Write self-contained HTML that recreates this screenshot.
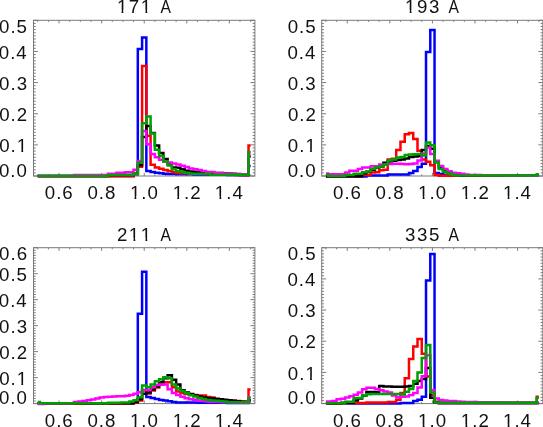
<!DOCTYPE html>
<html><head><meta charset="utf-8"><style>
html,body{margin:0;padding:0;background:#fff;}
svg{display:block;will-change:transform;}
text{font-kerning:none;font-family:"Liberation Sans",sans-serif;font-size:17.80px;fill:#111;letter-spacing:0.94px;word-spacing:1.60px;}
</style></head><body>
<svg width="543" height="427" viewBox="0 0 543 427">
<rect width="543" height="427" fill="#fff"/>
<g fill="none" stroke-width="2.50" stroke-linejoin="miter" stroke-linecap="butt">
<g fill="none" stroke="#7a7a7a" stroke-width="1"><rect x="33.50" y="20.30" width="221.40" height="155.70"/><path d="M37.76,176.00v-1.60M37.76,20.30v1.60M48.40,176.00v-1.60M48.40,20.30v1.60M59.05,176.00v-3.10M59.05,20.30v3.10M69.69,176.00v-1.60M69.69,20.30v1.60M80.34,176.00v-1.60M80.34,20.30v1.60M90.98,176.00v-1.60M90.98,20.30v1.60M101.63,176.00v-3.10M101.63,20.30v3.10M112.27,176.00v-1.60M112.27,20.30v1.60M122.92,176.00v-1.60M122.92,20.30v1.60M133.56,176.00v-1.60M133.56,20.30v1.60M144.21,176.00v-3.10M144.21,20.30v3.10M154.85,176.00v-1.60M154.85,20.30v1.60M165.50,176.00v-1.60M165.50,20.30v1.60M176.14,176.00v-1.60M176.14,20.30v1.60M186.79,176.00v-3.10M186.79,20.30v3.10M197.43,176.00v-1.60M197.43,20.30v1.60M208.08,176.00v-1.60M208.08,20.30v1.60M218.72,176.00v-1.60M218.72,20.30v1.60M229.37,176.00v-3.10M229.37,20.30v3.10M240.01,176.00v-1.60M240.01,20.30v1.60M250.66,176.00v-1.60M250.66,20.30v1.60M33.50,176.00h4.40M254.90,176.00h-4.40M33.50,172.89h2.20M254.90,172.89h-2.20M33.50,169.77h2.20M254.90,169.77h-2.20M33.50,166.66h2.20M254.90,166.66h-2.20M33.50,163.54h2.20M254.90,163.54h-2.20M33.50,160.43h2.20M254.90,160.43h-2.20M33.50,157.32h2.20M254.90,157.32h-2.20M33.50,154.20h2.20M254.90,154.20h-2.20M33.50,151.09h2.20M254.90,151.09h-2.20M33.50,147.97h2.20M254.90,147.97h-2.20M33.50,144.86h4.40M254.90,144.86h-4.40M33.50,141.75h2.20M254.90,141.75h-2.20M33.50,138.63h2.20M254.90,138.63h-2.20M33.50,135.52h2.20M254.90,135.52h-2.20M33.50,132.40h2.20M254.90,132.40h-2.20M33.50,129.29h2.20M254.90,129.29h-2.20M33.50,126.18h2.20M254.90,126.18h-2.20M33.50,123.06h2.20M254.90,123.06h-2.20M33.50,119.95h2.20M254.90,119.95h-2.20M33.50,116.83h2.20M254.90,116.83h-2.20M33.50,113.72h4.40M254.90,113.72h-4.40M33.50,110.61h2.20M254.90,110.61h-2.20M33.50,107.49h2.20M254.90,107.49h-2.20M33.50,104.38h2.20M254.90,104.38h-2.20M33.50,101.26h2.20M254.90,101.26h-2.20M33.50,98.15h2.20M254.90,98.15h-2.20M33.50,95.04h2.20M254.90,95.04h-2.20M33.50,91.92h2.20M254.90,91.92h-2.20M33.50,88.81h2.20M254.90,88.81h-2.20M33.50,85.69h2.20M254.90,85.69h-2.20M33.50,82.58h4.40M254.90,82.58h-4.40M33.50,79.47h2.20M254.90,79.47h-2.20M33.50,76.35h2.20M254.90,76.35h-2.20M33.50,73.24h2.20M254.90,73.24h-2.20M33.50,70.12h2.20M254.90,70.12h-2.20M33.50,67.01h2.20M254.90,67.01h-2.20M33.50,63.90h2.20M254.90,63.90h-2.20M33.50,60.78h2.20M254.90,60.78h-2.20M33.50,57.67h2.20M254.90,57.67h-2.20M33.50,54.55h2.20M254.90,54.55h-2.20M33.50,51.44h4.40M254.90,51.44h-4.40M33.50,48.33h2.20M254.90,48.33h-2.20M33.50,45.21h2.20M254.90,45.21h-2.20M33.50,42.10h2.20M254.90,42.10h-2.20M33.50,38.98h2.20M254.90,38.98h-2.20M33.50,35.87h2.20M254.90,35.87h-2.20M33.50,32.76h2.20M254.90,32.76h-2.20M33.50,29.64h2.20M254.90,29.64h-2.20M33.50,26.53h2.20M254.90,26.53h-2.20M33.50,23.41h2.20M254.90,23.41h-2.20M33.50,20.30h4.40M254.90,20.30h-4.40"/></g>
<path d="M37.76,176.10 H39.89 V176.10 H44.15 V176.10 H48.40 V176.10 H52.66 V176.10 H56.92 V176.10 H61.18 V176.10 H65.44 V176.10 H69.69 V176.10 H73.95 V176.10 H78.21 V176.10 H82.47 V176.10 H86.72 V176.10 H90.98 V176.10 H95.24 V176.10 H99.50 V176.10 H103.76 V176.10 H108.02 V176.10 H112.27 V176.10 H116.53 V176.10 H120.79 V176.10 H125.05 V176.10 H129.31 V176.10 H133.56 V174.00 H137.82 V48.90 H142.08 V37.50 H146.34 V170.90 H150.60 V172.00 H154.85 V172.70 H159.11 V173.30 H163.37 V173.70 H167.63 V174.00 H171.89 V174.07 H176.14 V174.13 H180.40 V174.20 H184.66 V174.27 H188.92 V174.33 H193.18 V174.40 H197.43 V174.47 H201.69 V174.53 H205.95 V174.60 H210.21 V174.67 H214.46 V174.73 H218.72 V174.80 H222.98 V174.87 H227.24 V174.93 H231.50 V175.00 H235.75 V175.07 H240.01 V175.13 H244.27 V175.20 H248.53 V166.00 H250.66" stroke="#0000ff"/>
<path d="M37.76,176.30 H39.89 V176.30 H44.15 V176.30 H48.40 V176.30 H52.66 V176.30 H56.92 V176.30 H61.18 V176.30 H65.44 V176.30 H69.69 V176.30 H73.95 V176.30 H78.21 V176.30 H82.47 V176.30 H86.72 V176.30 H90.98 V176.30 H95.24 V176.30 H99.50 V176.30 H103.76 V176.30 H108.02 V176.30 H112.27 V176.30 H116.53 V176.30 H120.79 V176.30 H125.05 V176.30 H129.31 V176.30 H133.56 V173.50 H137.82 V166.70 H142.08 V66.00 H146.34 V135.70 H150.60 V164.70 H154.85 V167.40 H159.11 V168.70 H163.37 V170.00 H167.63 V171.00 H171.89 V172.20 H176.14 V173.00 H180.40 V173.14 H184.66 V173.28 H188.92 V173.41 H193.18 V173.55 H197.43 V173.69 H201.69 V173.82 H205.95 V173.96 H210.21 V174.10 H214.46 V174.24 H218.72 V174.38 H222.98 V174.51 H227.24 V174.65 H231.50 V174.79 H235.75 V174.93 H240.01 V175.06 H244.27 V175.20 H248.53 V145.50 H250.66" stroke="#ff0000"/>
<path d="M37.76,176.10 H39.89 V176.10 H44.15 V176.10 H48.40 V176.10 H52.66 V176.10 H56.92 V176.10 H61.18 V176.10 H65.44 V176.10 H69.69 V176.10 H73.95 V176.10 H78.21 V176.10 H82.47 V176.10 H86.72 V176.10 H90.98 V176.10 H95.24 V176.10 H99.50 V176.10 H103.76 V176.10 H108.02 V175.10 H112.27 V175.10 H116.53 V175.10 H120.79 V175.10 H125.05 V175.10 H129.31 V175.10 H133.56 V174.00 H137.82 V165.30 H142.08 V137.00 H146.34 V126.00 H150.60 V133.00 H154.85 V145.50 H159.11 V153.00 H163.37 V159.00 H167.63 V163.60 H171.89 V167.50 H176.14 V167.80 H180.40 V169.30 H184.66 V170.80 H188.92 V171.50 H193.18 V171.73 H197.43 V171.96 H201.69 V172.19 H205.95 V172.42 H210.21 V172.65 H214.46 V172.88 H218.72 V173.12 H222.98 V173.35 H227.24 V173.58 H231.50 V173.81 H235.75 V174.04 H240.01 V174.27 H244.27 V174.50 H248.53 V156.60 H250.66" stroke="#000000"/>
<path d="M37.76,176.10 H39.89 V176.10 H44.15 V176.10 H48.40 V176.10 H52.66 V176.10 H56.92 V176.10 H61.18 V176.10 H65.44 V176.10 H69.69 V176.10 H73.95 V175.10 H78.21 V175.10 H82.47 V175.10 H86.72 V175.10 H90.98 V175.10 H95.24 V175.10 H99.50 V175.10 H103.76 V175.10 H108.02 V173.70 H112.27 V173.70 H116.53 V172.80 H120.79 V172.80 H125.05 V172.30 H129.31 V172.30 H133.56 V169.70 H137.82 V161.00 H142.08 V131.00 H146.34 V144.30 H150.60 V154.00 H154.85 V157.20 H159.11 V159.80 H163.37 V161.40 H167.63 V162.60 H171.89 V163.50 H176.14 V164.50 H180.40 V165.80 H184.66 V167.10 H188.92 V168.60 H193.18 V169.30 H197.43 V170.00 H201.69 V171.00 H205.95 V172.10 H210.21 V172.10 H214.46 V173.00 H218.72 V173.00 H222.98 V173.50 H227.24 V173.50 H231.50 V174.20 H235.75 V174.20 H240.01 V174.20 H244.27 V174.20 H248.53 V154.50 H250.66" stroke="#ff00ff"/>
<path d="M37.76,176.10 H39.89 V176.10 H44.15 V176.10 H48.40 V176.10 H52.66 V176.10 H56.92 V176.10 H61.18 V176.10 H65.44 V176.10 H69.69 V176.10 H73.95 V176.10 H78.21 V176.10 H82.47 V176.10 H86.72 V176.10 H90.98 V176.10 H95.24 V176.10 H99.50 V176.10 H103.76 V176.10 H108.02 V175.10 H112.27 V175.10 H116.53 V175.10 H120.79 V175.10 H125.05 V175.10 H129.31 V175.10 H133.56 V173.70 H137.82 V162.70 H142.08 V123.20 H146.34 V116.50 H150.60 V133.50 H154.85 V149.80 H159.11 V156.00 H163.37 V161.60 H167.63 V165.60 H171.89 V169.20 H176.14 V171.20 H180.40 V172.10 H184.66 V172.70 H188.92 V173.40 H193.18 V173.70 H197.43 V173.70 H201.69 V173.70 H205.95 V173.70 H210.21 V174.80 H214.46 V174.80 H218.72 V174.80 H222.98 V174.80 H227.24 V174.80 H231.50 V174.80 H235.75 V174.80 H240.01 V174.80 H244.27 V174.80 H248.53 V152.00 H250.66" stroke="#00a000"/>
<g><text transform="translate(44.81,198.55) scale(1.050,1)">0.6</text><text transform="translate(87.38,198.55) scale(1.050,1)">0.8</text><text transform="translate(129.88,198.55) scale(1.050,1)">1.0</text><text transform="translate(172.67,198.55) scale(1.050,1)">1.2</text><text transform="translate(214.86,198.55) scale(1.050,1)">1.4</text><text transform="translate(-1.03,176.70) scale(1.050,1)">0.0</text><text transform="translate(-0.84,152.11) scale(1.050,1)">0.1</text><text transform="translate(-0.82,120.97) scale(1.050,1)">0.2</text><text transform="translate(-0.93,89.83) scale(1.050,1)">0.3</text><text transform="translate(-1.21,58.69) scale(1.050,1)">0.4</text><text transform="translate(-0.97,32.80) scale(1.050,1)">0.5</text><text transform="translate(116.90,12.60) scale(1.050,1)" style="letter-spacing:1.50px">171</text><text transform="translate(160.38,12.60) scale(0.880,1)">A</text></g>
<g fill="none" stroke="#7a7a7a" stroke-width="1"><rect x="321.70" y="20.30" width="221.10" height="155.70"/><path d="M325.96,176.00v-1.60M325.96,20.30v1.60M336.60,176.00v-1.60M336.60,20.30v1.60M347.25,176.00v-3.10M347.25,20.30v3.10M357.89,176.00v-1.60M357.89,20.30v1.60M368.54,176.00v-1.60M368.54,20.30v1.60M379.18,176.00v-1.60M379.18,20.30v1.60M389.83,176.00v-3.10M389.83,20.30v3.10M400.47,176.00v-1.60M400.47,20.30v1.60M411.12,176.00v-1.60M411.12,20.30v1.60M421.76,176.00v-1.60M421.76,20.30v1.60M432.41,176.00v-3.10M432.41,20.30v3.10M443.05,176.00v-1.60M443.05,20.30v1.60M453.70,176.00v-1.60M453.70,20.30v1.60M464.34,176.00v-1.60M464.34,20.30v1.60M474.99,176.00v-3.10M474.99,20.30v3.10M485.63,176.00v-1.60M485.63,20.30v1.60M496.28,176.00v-1.60M496.28,20.30v1.60M506.92,176.00v-1.60M506.92,20.30v1.60M517.57,176.00v-3.10M517.57,20.30v3.10M528.21,176.00v-1.60M528.21,20.30v1.60M538.86,176.00v-1.60M538.86,20.30v1.60M321.70,176.00h4.40M542.80,176.00h-4.40M321.70,172.89h2.20M542.80,172.89h-2.20M321.70,169.77h2.20M542.80,169.77h-2.20M321.70,166.66h2.20M542.80,166.66h-2.20M321.70,163.54h2.20M542.80,163.54h-2.20M321.70,160.43h2.20M542.80,160.43h-2.20M321.70,157.32h2.20M542.80,157.32h-2.20M321.70,154.20h2.20M542.80,154.20h-2.20M321.70,151.09h2.20M542.80,151.09h-2.20M321.70,147.97h2.20M542.80,147.97h-2.20M321.70,144.86h4.40M542.80,144.86h-4.40M321.70,141.75h2.20M542.80,141.75h-2.20M321.70,138.63h2.20M542.80,138.63h-2.20M321.70,135.52h2.20M542.80,135.52h-2.20M321.70,132.40h2.20M542.80,132.40h-2.20M321.70,129.29h2.20M542.80,129.29h-2.20M321.70,126.18h2.20M542.80,126.18h-2.20M321.70,123.06h2.20M542.80,123.06h-2.20M321.70,119.95h2.20M542.80,119.95h-2.20M321.70,116.83h2.20M542.80,116.83h-2.20M321.70,113.72h4.40M542.80,113.72h-4.40M321.70,110.61h2.20M542.80,110.61h-2.20M321.70,107.49h2.20M542.80,107.49h-2.20M321.70,104.38h2.20M542.80,104.38h-2.20M321.70,101.26h2.20M542.80,101.26h-2.20M321.70,98.15h2.20M542.80,98.15h-2.20M321.70,95.04h2.20M542.80,95.04h-2.20M321.70,91.92h2.20M542.80,91.92h-2.20M321.70,88.81h2.20M542.80,88.81h-2.20M321.70,85.69h2.20M542.80,85.69h-2.20M321.70,82.58h4.40M542.80,82.58h-4.40M321.70,79.47h2.20M542.80,79.47h-2.20M321.70,76.35h2.20M542.80,76.35h-2.20M321.70,73.24h2.20M542.80,73.24h-2.20M321.70,70.12h2.20M542.80,70.12h-2.20M321.70,67.01h2.20M542.80,67.01h-2.20M321.70,63.90h2.20M542.80,63.90h-2.20M321.70,60.78h2.20M542.80,60.78h-2.20M321.70,57.67h2.20M542.80,57.67h-2.20M321.70,54.55h2.20M542.80,54.55h-2.20M321.70,51.44h4.40M542.80,51.44h-4.40M321.70,48.33h2.20M542.80,48.33h-2.20M321.70,45.21h2.20M542.80,45.21h-2.20M321.70,42.10h2.20M542.80,42.10h-2.20M321.70,38.98h2.20M542.80,38.98h-2.20M321.70,35.87h2.20M542.80,35.87h-2.20M321.70,32.76h2.20M542.80,32.76h-2.20M321.70,29.64h2.20M542.80,29.64h-2.20M321.70,26.53h2.20M542.80,26.53h-2.20M321.70,23.41h2.20M542.80,23.41h-2.20M321.70,20.30h4.40M542.80,20.30h-4.40"/></g>
<path d="M325.96,176.40 H328.09 V176.40 H332.35 V176.40 H336.60 V176.40 H340.86 V176.40 H345.12 V176.40 H349.38 V176.40 H353.63 V176.40 H357.89 V176.40 H362.15 V176.40 H366.41 V175.40 H370.67 V175.40 H374.93 V175.40 H379.18 V175.40 H383.44 V175.40 H387.70 V174.50 H391.96 V174.50 H396.22 V174.50 H400.47 V174.50 H404.73 V174.50 H408.99 V173.10 H413.25 V171.00 H417.50 V167.00 H421.76 V163.70 H426.02 V52.00 H430.28 V30.10 H434.54 V173.00 H438.80 V174.00 H443.05 V174.80 H447.31 V175.70 H451.57 V175.70 H455.83 V175.70 H460.09 V175.70 H464.34 V175.70 H468.60 V175.70 H472.86 V175.70 H477.12 V175.70 H481.38 V175.70 H485.63 V175.70 H489.89 V175.70 H494.15 V175.70 H498.41 V175.70 H502.66 V175.70 H506.92 V175.70 H511.18 V175.70 H515.44 V175.70 H519.70 V175.70 H523.95 V175.70 H528.21 V175.70 H532.47 V175.70 H536.73 V175.70 H538.86" stroke="#0000ff"/>
<path d="M325.96,176.30 H328.09 V176.30 H332.35 V176.30 H336.60 V176.30 H340.86 V176.30 H345.12 V176.30 H349.38 V176.30 H353.63 V176.30 H357.89 V176.30 H362.15 V175.00 H366.41 V174.70 H370.67 V172.50 H374.93 V172.20 H379.18 V170.20 H383.44 V169.80 H387.70 V159.50 H391.96 V158.80 H396.22 V150.10 H400.47 V141.70 H404.73 V134.20 H408.99 V133.00 H413.25 V139.00 H417.50 V150.80 H421.76 V159.50 H426.02 V161.80 H430.28 V165.30 H434.54 V175.10 H438.80 V175.70 H443.05 V175.70 H447.31 V175.70 H451.57 V175.70 H455.83 V175.70 H460.09 V175.70 H464.34 V175.70 H468.60 V175.70 H472.86 V175.70 H477.12 V175.70 H481.38 V175.70 H485.63 V175.70 H489.89 V175.70 H494.15 V175.70 H498.41 V175.70 H502.66 V175.70 H506.92 V175.70 H511.18 V175.70 H515.44 V175.70 H519.70 V175.70 H523.95 V175.70 H528.21 V175.70 H532.47 V175.70 H536.73 V175.70 H538.86" stroke="#ff0000"/>
<path d="M325.96,176.30 H328.09 V176.30 H332.35 V176.30 H336.60 V176.30 H340.86 V176.30 H345.12 V176.30 H349.38 V176.30 H353.63 V176.30 H357.89 V176.30 H362.15 V173.20 H366.41 V171.70 H370.67 V169.70 H374.93 V167.80 H379.18 V166.50 H383.44 V162.70 H387.70 V161.50 H391.96 V160.70 H396.22 V160.00 H400.47 V159.40 H404.73 V158.50 H408.99 V157.00 H413.25 V156.50 H417.50 V156.00 H421.76 V150.00 H426.02 V146.00 H430.28 V148.80 H434.54 V161.70 H438.80 V167.50 H443.05 V170.50 H447.31 V172.50 H451.57 V173.80 H455.83 V174.60 H460.09 V175.60 H464.34 V175.60 H468.60 V175.60 H472.86 V175.60 H477.12 V175.60 H481.38 V175.60 H485.63 V175.60 H489.89 V175.60 H494.15 V175.60 H498.41 V175.60 H502.66 V175.60 H506.92 V175.60 H511.18 V175.60 H515.44 V175.60 H519.70 V175.60 H523.95 V175.60 H528.21 V175.60 H532.47 V175.60 H536.73 V175.60 H538.86" stroke="#000000"/>
<path d="M325.96,173.50 H328.09 V174.20 H332.35 V174.20 H336.60 V174.20 H340.86 V174.20 H345.12 V172.60 H349.38 V170.70 H353.63 V170.70 H357.89 V168.90 H362.15 V167.50 H366.41 V167.50 H370.67 V166.20 H374.93 V166.20 H379.18 V164.40 H383.44 V164.40 H387.70 V164.00 H391.96 V163.70 H396.22 V163.70 H400.47 V164.00 H404.73 V164.20 H408.99 V164.00 H413.25 V163.50 H417.50 V160.40 H421.76 V153.50 H426.02 V147.40 H430.28 V154.00 H434.54 V160.80 H438.80 V166.00 H443.05 V169.00 H447.31 V171.30 H451.57 V172.70 H455.83 V173.20 H460.09 V173.80 H464.34 V174.40 H468.60 V175.00 H472.86 V175.04 H477.12 V175.09 H481.38 V175.13 H485.63 V175.18 H489.89 V175.22 H494.15 V175.26 H498.41 V175.31 H502.66 V175.35 H506.92 V175.39 H511.18 V175.44 H515.44 V175.48 H519.70 V175.53 H523.95 V175.57 H528.21 V175.61 H532.47 V175.66 H536.73 V175.70 H538.86" stroke="#ff00ff"/>
<path d="M325.96,174.80 H328.09 V176.00 H332.35 V176.00 H336.60 V176.00 H340.86 V176.00 H345.12 V175.10 H349.38 V175.10 H353.63 V173.70 H357.89 V173.70 H362.15 V172.30 H366.41 V171.50 H370.67 V169.10 H374.93 V167.40 H379.18 V166.20 H383.44 V164.60 H387.70 V160.60 H391.96 V159.40 H396.22 V157.60 H400.47 V157.00 H404.73 V155.10 H408.99 V154.50 H413.25 V154.20 H417.50 V154.00 H421.76 V155.50 H426.02 V142.40 H430.28 V145.20 H434.54 V162.60 H438.80 V169.00 H443.05 V171.80 H447.31 V173.40 H451.57 V174.70 H455.83 V175.60 H460.09 V175.60 H464.34 V175.60 H468.60 V175.60 H472.86 V175.60 H477.12 V175.60 H481.38 V175.60 H485.63 V175.60 H489.89 V175.60 H494.15 V175.60 H498.41 V175.60 H502.66 V175.60 H506.92 V175.60 H511.18 V175.60 H515.44 V175.60 H519.70 V175.60 H523.95 V175.60 H528.21 V175.60 H532.47 V175.60 H536.73 V174.20 H538.86" stroke="#00a000"/>
<g><text transform="translate(333.01,198.55) scale(1.050,1)">0.6</text><text transform="translate(375.58,198.55) scale(1.050,1)">0.8</text><text transform="translate(418.08,198.55) scale(1.050,1)">1.0</text><text transform="translate(460.87,198.55) scale(1.050,1)">1.2</text><text transform="translate(503.06,198.55) scale(1.050,1)">1.4</text><text transform="translate(287.67,176.70) scale(1.050,1)">0.0</text><text transform="translate(287.86,152.11) scale(1.050,1)">0.1</text><text transform="translate(287.88,120.97) scale(1.050,1)">0.2</text><text transform="translate(287.77,89.83) scale(1.050,1)">0.3</text><text transform="translate(287.49,58.69) scale(1.050,1)">0.4</text><text transform="translate(287.73,32.80) scale(1.050,1)">0.5</text><text transform="translate(405.10,12.60) scale(1.050,1)" style="letter-spacing:1.50px">193</text><text transform="translate(448.58,12.60) scale(0.880,1)">A</text></g>
<g fill="none" stroke="#7a7a7a" stroke-width="1"><rect x="33.50" y="247.70" width="221.40" height="155.90"/><path d="M37.76,403.60v-1.60M37.76,247.70v1.60M48.40,403.60v-1.60M48.40,247.70v1.60M59.05,403.60v-3.10M59.05,247.70v3.10M69.69,403.60v-1.60M69.69,247.70v1.60M80.34,403.60v-1.60M80.34,247.70v1.60M90.98,403.60v-1.60M90.98,247.70v1.60M101.63,403.60v-3.10M101.63,247.70v3.10M112.27,403.60v-1.60M112.27,247.70v1.60M122.92,403.60v-1.60M122.92,247.70v1.60M133.56,403.60v-1.60M133.56,247.70v1.60M144.21,403.60v-3.10M144.21,247.70v3.10M154.85,403.60v-1.60M154.85,247.70v1.60M165.50,403.60v-1.60M165.50,247.70v1.60M176.14,403.60v-1.60M176.14,247.70v1.60M186.79,403.60v-3.10M186.79,247.70v3.10M197.43,403.60v-1.60M197.43,247.70v1.60M208.08,403.60v-1.60M208.08,247.70v1.60M218.72,403.60v-1.60M218.72,247.70v1.60M229.37,403.60v-3.10M229.37,247.70v3.10M240.01,403.60v-1.60M240.01,247.70v1.60M250.66,403.60v-1.60M250.66,247.70v1.60M33.50,403.60h4.40M254.90,403.60h-4.40M33.50,401.00h2.20M254.90,401.00h-2.20M33.50,398.40h2.20M254.90,398.40h-2.20M33.50,395.81h2.20M254.90,395.81h-2.20M33.50,393.21h2.20M254.90,393.21h-2.20M33.50,390.61h2.20M254.90,390.61h-2.20M33.50,388.01h2.20M254.90,388.01h-2.20M33.50,385.41h2.20M254.90,385.41h-2.20M33.50,382.81h2.20M254.90,382.81h-2.20M33.50,380.22h2.20M254.90,380.22h-2.20M33.50,377.62h4.40M254.90,377.62h-4.40M33.50,375.02h2.20M254.90,375.02h-2.20M33.50,372.42h2.20M254.90,372.42h-2.20M33.50,369.82h2.20M254.90,369.82h-2.20M33.50,367.22h2.20M254.90,367.22h-2.20M33.50,364.62h2.20M254.90,364.62h-2.20M33.50,362.03h2.20M254.90,362.03h-2.20M33.50,359.43h2.20M254.90,359.43h-2.20M33.50,356.83h2.20M254.90,356.83h-2.20M33.50,354.23h2.20M254.90,354.23h-2.20M33.50,351.63h4.40M254.90,351.63h-4.40M33.50,349.04h2.20M254.90,349.04h-2.20M33.50,346.44h2.20M254.90,346.44h-2.20M33.50,343.84h2.20M254.90,343.84h-2.20M33.50,341.24h2.20M254.90,341.24h-2.20M33.50,338.64h2.20M254.90,338.64h-2.20M33.50,336.04h2.20M254.90,336.04h-2.20M33.50,333.44h2.20M254.90,333.44h-2.20M33.50,330.85h2.20M254.90,330.85h-2.20M33.50,328.25h2.20M254.90,328.25h-2.20M33.50,325.65h4.40M254.90,325.65h-4.40M33.50,323.05h2.20M254.90,323.05h-2.20M33.50,320.45h2.20M254.90,320.45h-2.20M33.50,317.86h2.20M254.90,317.86h-2.20M33.50,315.26h2.20M254.90,315.26h-2.20M33.50,312.66h2.20M254.90,312.66h-2.20M33.50,310.06h2.20M254.90,310.06h-2.20M33.50,307.46h2.20M254.90,307.46h-2.20M33.50,304.86h2.20M254.90,304.86h-2.20M33.50,302.26h2.20M254.90,302.26h-2.20M33.50,299.67h4.40M254.90,299.67h-4.40M33.50,297.07h2.20M254.90,297.07h-2.20M33.50,294.47h2.20M254.90,294.47h-2.20M33.50,291.87h2.20M254.90,291.87h-2.20M33.50,289.27h2.20M254.90,289.27h-2.20M33.50,286.68h2.20M254.90,286.68h-2.20M33.50,284.08h2.20M254.90,284.08h-2.20M33.50,281.48h2.20M254.90,281.48h-2.20M33.50,278.88h2.20M254.90,278.88h-2.20M33.50,276.28h2.20M254.90,276.28h-2.20M33.50,273.68h4.40M254.90,273.68h-4.40M33.50,271.08h2.20M254.90,271.08h-2.20M33.50,268.49h2.20M254.90,268.49h-2.20M33.50,265.89h2.20M254.90,265.89h-2.20M33.50,263.29h2.20M254.90,263.29h-2.20M33.50,260.69h2.20M254.90,260.69h-2.20M33.50,258.09h2.20M254.90,258.09h-2.20M33.50,255.49h2.20M254.90,255.49h-2.20M33.50,252.90h2.20M254.90,252.90h-2.20M33.50,250.30h2.20M254.90,250.30h-2.20M33.50,247.70h4.40M254.90,247.70h-4.40"/></g>
<path d="M37.76,403.30 H39.89 V403.30 H44.15 V403.30 H48.40 V403.30 H52.66 V403.30 H56.92 V403.30 H61.18 V403.30 H65.44 V403.30 H69.69 V403.30 H73.95 V403.30 H78.21 V403.30 H82.47 V403.30 H86.72 V403.30 H90.98 V403.30 H95.24 V403.30 H99.50 V403.30 H103.76 V403.30 H108.02 V403.30 H112.27 V403.30 H116.53 V403.30 H120.79 V403.30 H125.05 V403.30 H129.31 V403.30 H133.56 V402.60 H137.82 V313.80 H142.08 V271.80 H146.34 V397.00 H150.60 V398.10 H154.85 V399.10 H159.11 V400.00 H163.37 V400.40 H167.63 V401.30 H171.89 V402.00 H176.14 V402.50 H180.40 V402.53 H184.66 V402.56 H188.92 V402.59 H193.18 V402.62 H197.43 V402.66 H201.69 V402.69 H205.95 V402.72 H210.21 V402.75 H214.46 V402.78 H218.72 V402.81 H222.98 V402.84 H227.24 V402.88 H231.50 V402.91 H235.75 V402.94 H240.01 V402.97 H244.27 V403.00 H248.53 V400.30 H250.66" stroke="#0000ff"/>
<path d="M37.76,403.50 H39.89 V403.50 H44.15 V403.50 H48.40 V403.50 H52.66 V403.50 H56.92 V403.50 H61.18 V403.50 H65.44 V403.50 H69.69 V403.50 H73.95 V403.50 H78.21 V403.50 H82.47 V403.50 H86.72 V403.50 H90.98 V403.50 H95.24 V403.50 H99.50 V403.50 H103.76 V403.50 H108.02 V403.50 H112.27 V403.50 H116.53 V403.50 H120.79 V403.50 H125.05 V403.50 H129.31 V403.50 H133.56 V402.80 H137.82 V400.60 H142.08 V390.60 H146.34 V393.60 H150.60 V390.60 H154.85 V387.60 H159.11 V384.60 H163.37 V382.30 H167.63 V382.30 H171.89 V387.20 H176.14 V391.60 H180.40 V393.10 H184.66 V394.10 H188.92 V394.60 H193.18 V395.10 H197.43 V395.40 H201.69 V395.60 H205.95 V397.10 H210.21 V397.60 H214.46 V398.70 H218.72 V399.40 H222.98 V400.20 H227.24 V400.40 H231.50 V400.80 H235.75 V401.10 H240.01 V401.40 H244.27 V401.60 H248.53 V389.40 H250.66" stroke="#ff0000"/>
<path d="M37.76,403.30 H39.89 V403.30 H44.15 V403.30 H48.40 V403.30 H52.66 V403.30 H56.92 V403.30 H61.18 V403.30 H65.44 V403.30 H69.69 V403.30 H73.95 V403.30 H78.21 V403.30 H82.47 V403.30 H86.72 V403.30 H90.98 V403.30 H95.24 V403.30 H99.50 V403.30 H103.76 V403.30 H108.02 V403.30 H112.27 V403.30 H116.53 V403.30 H120.79 V403.30 H125.05 V403.30 H129.31 V403.30 H133.56 V402.10 H137.82 V399.20 H142.08 V393.80 H146.34 V392.60 H150.60 V389.60 H154.85 V386.60 H159.11 V382.30 H163.37 V378.20 H167.63 V375.20 H171.89 V379.70 H176.14 V384.40 H180.40 V390.30 H184.66 V392.60 H188.92 V394.00 H193.18 V395.40 H197.43 V396.40 H201.69 V397.40 H205.95 V398.00 H210.21 V398.46 H214.46 V398.91 H218.72 V399.37 H222.98 V399.82 H227.24 V400.28 H231.50 V400.73 H235.75 V401.19 H240.01 V401.64 H244.27 V402.10 H248.53 V400.60 H250.66" stroke="#000000"/>
<path d="M37.76,404.10 H39.89 V404.10 H44.15 V403.30 H48.40 V403.30 H52.66 V403.30 H56.92 V403.30 H61.18 V403.30 H65.44 V403.30 H69.69 V403.30 H73.95 V401.90 H78.21 V401.40 H82.47 V401.00 H86.72 V400.20 H90.98 V399.40 H95.24 V398.40 H99.50 V397.60 H103.76 V397.00 H108.02 V396.80 H112.27 V396.40 H116.53 V396.30 H120.79 V396.30 H125.05 V395.80 H129.31 V395.00 H133.56 V393.80 H137.82 V392.20 H142.08 V389.90 H146.34 V389.90 H150.60 V387.20 H154.85 V385.00 H159.11 V384.40 H163.37 V384.60 H167.63 V389.30 H171.89 V393.10 H176.14 V395.00 H180.40 V396.80 H184.66 V398.20 H188.92 V399.20 H193.18 V399.80 H197.43 V400.40 H201.69 V401.10 H205.95 V401.60 H210.21 V401.73 H214.46 V401.87 H218.72 V402.00 H222.98 V402.13 H227.24 V402.27 H231.50 V402.40 H235.75 V402.53 H240.01 V402.67 H244.27 V402.80 H248.53 V397.20 H250.66" stroke="#ff00ff"/>
<path d="M37.76,402.00 H39.89 V403.20 H44.15 V403.20 H48.40 V403.20 H52.66 V403.20 H56.92 V403.20 H61.18 V403.20 H65.44 V403.20 H69.69 V403.20 H73.95 V403.20 H78.21 V403.20 H82.47 V403.20 H86.72 V403.20 H90.98 V403.20 H95.24 V403.20 H99.50 V403.20 H103.76 V403.20 H108.02 V402.80 H112.27 V402.80 H116.53 V402.80 H120.79 V402.40 H125.05 V402.40 H129.31 V401.60 H133.56 V400.20 H137.82 V397.30 H142.08 V385.40 H146.34 V387.20 H150.60 V384.40 H154.85 V381.20 H159.11 V379.30 H163.37 V377.30 H167.63 V378.30 H171.89 V384.40 H176.14 V388.60 H180.40 V391.00 H184.66 V393.20 H188.92 V395.30 H193.18 V396.60 H197.43 V398.00 H201.69 V399.00 H205.95 V400.00 H210.21 V400.40 H214.46 V400.80 H218.72 V401.30 H222.98 V401.50 H227.24 V402.30 H231.50 V402.30 H235.75 V402.30 H240.01 V402.30 H244.27 V402.30 H248.53 V398.20 H250.66" stroke="#00a000"/>
<g><text transform="translate(44.81,427.15) scale(1.050,1)">0.6</text><text transform="translate(87.38,427.15) scale(1.050,1)">0.8</text><text transform="translate(129.88,427.15) scale(1.050,1)">1.0</text><text transform="translate(172.67,427.15) scale(1.050,1)">1.2</text><text transform="translate(214.86,427.15) scale(1.050,1)">1.4</text><text transform="translate(-1.03,404.30) scale(1.050,1)">0.0</text><text transform="translate(-0.84,384.87) scale(1.050,1)">0.1</text><text transform="translate(-0.82,358.88) scale(1.050,1)">0.2</text><text transform="translate(-0.93,332.90) scale(1.050,1)">0.3</text><text transform="translate(-1.21,306.92) scale(1.050,1)">0.4</text><text transform="translate(-0.97,280.93) scale(1.050,1)">0.5</text><text transform="translate(-0.93,260.20) scale(1.050,1)">0.6</text><text transform="translate(116.90,240.50) scale(1.050,1)" style="letter-spacing:1.50px">211</text><text transform="translate(160.38,240.50) scale(0.880,1)">A</text></g>
<g fill="none" stroke="#7a7a7a" stroke-width="1"><rect x="321.70" y="247.70" width="221.10" height="155.90"/><path d="M325.96,403.60v-1.60M325.96,247.70v1.60M336.60,403.60v-1.60M336.60,247.70v1.60M347.25,403.60v-3.10M347.25,247.70v3.10M357.89,403.60v-1.60M357.89,247.70v1.60M368.54,403.60v-1.60M368.54,247.70v1.60M379.18,403.60v-1.60M379.18,247.70v1.60M389.83,403.60v-3.10M389.83,247.70v3.10M400.47,403.60v-1.60M400.47,247.70v1.60M411.12,403.60v-1.60M411.12,247.70v1.60M421.76,403.60v-1.60M421.76,247.70v1.60M432.41,403.60v-3.10M432.41,247.70v3.10M443.05,403.60v-1.60M443.05,247.70v1.60M453.70,403.60v-1.60M453.70,247.70v1.60M464.34,403.60v-1.60M464.34,247.70v1.60M474.99,403.60v-3.10M474.99,247.70v3.10M485.63,403.60v-1.60M485.63,247.70v1.60M496.28,403.60v-1.60M496.28,247.70v1.60M506.92,403.60v-1.60M506.92,247.70v1.60M517.57,403.60v-3.10M517.57,247.70v3.10M528.21,403.60v-1.60M528.21,247.70v1.60M538.86,403.60v-1.60M538.86,247.70v1.60M321.70,403.60h4.40M542.80,403.60h-4.40M321.70,400.48h2.20M542.80,400.48h-2.20M321.70,397.36h2.20M542.80,397.36h-2.20M321.70,394.25h2.20M542.80,394.25h-2.20M321.70,391.13h2.20M542.80,391.13h-2.20M321.70,388.01h2.20M542.80,388.01h-2.20M321.70,384.89h2.20M542.80,384.89h-2.20M321.70,381.77h2.20M542.80,381.77h-2.20M321.70,378.66h2.20M542.80,378.66h-2.20M321.70,375.54h2.20M542.80,375.54h-2.20M321.70,372.42h4.40M542.80,372.42h-4.40M321.70,369.30h2.20M542.80,369.30h-2.20M321.70,366.18h2.20M542.80,366.18h-2.20M321.70,363.07h2.20M542.80,363.07h-2.20M321.70,359.95h2.20M542.80,359.95h-2.20M321.70,356.83h2.20M542.80,356.83h-2.20M321.70,353.71h2.20M542.80,353.71h-2.20M321.70,350.59h2.20M542.80,350.59h-2.20M321.70,347.48h2.20M542.80,347.48h-2.20M321.70,344.36h2.20M542.80,344.36h-2.20M321.70,341.24h4.40M542.80,341.24h-4.40M321.70,338.12h2.20M542.80,338.12h-2.20M321.70,335.00h2.20M542.80,335.00h-2.20M321.70,331.89h2.20M542.80,331.89h-2.20M321.70,328.77h2.20M542.80,328.77h-2.20M321.70,325.65h2.20M542.80,325.65h-2.20M321.70,322.53h2.20M542.80,322.53h-2.20M321.70,319.41h2.20M542.80,319.41h-2.20M321.70,316.30h2.20M542.80,316.30h-2.20M321.70,313.18h2.20M542.80,313.18h-2.20M321.70,310.06h4.40M542.80,310.06h-4.40M321.70,306.94h2.20M542.80,306.94h-2.20M321.70,303.82h2.20M542.80,303.82h-2.20M321.70,300.71h2.20M542.80,300.71h-2.20M321.70,297.59h2.20M542.80,297.59h-2.20M321.70,294.47h2.20M542.80,294.47h-2.20M321.70,291.35h2.20M542.80,291.35h-2.20M321.70,288.23h2.20M542.80,288.23h-2.20M321.70,285.12h2.20M542.80,285.12h-2.20M321.70,282.00h2.20M542.80,282.00h-2.20M321.70,278.88h4.40M542.80,278.88h-4.40M321.70,275.76h2.20M542.80,275.76h-2.20M321.70,272.64h2.20M542.80,272.64h-2.20M321.70,269.53h2.20M542.80,269.53h-2.20M321.70,266.41h2.20M542.80,266.41h-2.20M321.70,263.29h2.20M542.80,263.29h-2.20M321.70,260.17h2.20M542.80,260.17h-2.20M321.70,257.05h2.20M542.80,257.05h-2.20M321.70,253.94h2.20M542.80,253.94h-2.20M321.70,250.82h2.20M542.80,250.82h-2.20M321.70,247.70h4.40M542.80,247.70h-4.40"/></g>
<path d="M325.96,403.60 H328.09 V403.60 H332.35 V403.60 H336.60 V403.60 H340.86 V403.60 H345.12 V403.60 H349.38 V403.60 H353.63 V403.60 H357.89 V403.60 H362.15 V403.60 H366.41 V403.60 H370.67 V403.60 H374.93 V403.60 H379.18 V403.60 H383.44 V403.60 H387.70 V403.60 H391.96 V403.60 H396.22 V403.60 H400.47 V403.00 H404.73 V403.00 H408.99 V403.00 H413.25 V401.10 H417.50 V399.70 H421.76 V396.80 H426.02 V280.40 H430.28 V254.10 H434.54 V402.10 H438.80 V403.10 H443.05 V403.10 H447.31 V403.10 H451.57 V403.10 H455.83 V403.10 H460.09 V403.10 H464.34 V403.10 H468.60 V403.10 H472.86 V403.10 H477.12 V403.10 H481.38 V403.10 H485.63 V403.10 H489.89 V403.10 H494.15 V403.10 H498.41 V403.10 H502.66 V403.10 H506.92 V403.10 H511.18 V403.10 H515.44 V403.10 H519.70 V403.10 H523.95 V403.10 H528.21 V403.10 H532.47 V403.10 H536.73 V403.10 H538.86" stroke="#0000ff"/>
<path d="M325.96,403.60 H328.09 V403.60 H332.35 V403.60 H336.60 V403.60 H340.86 V403.60 H345.12 V402.90 H349.38 V402.90 H353.63 V402.90 H357.89 V402.90 H362.15 V402.90 H366.41 V402.40 H370.67 V402.40 H374.93 V402.40 H379.18 V402.40 H383.44 V402.40 H387.70 V402.00 H391.96 V402.00 H396.22 V399.80 H400.47 V393.00 H404.73 V378.20 H408.99 V359.00 H413.25 V346.40 H417.50 V339.00 H421.76 V353.80 H426.02 V376.50 H430.28 V395.00 H434.54 V402.10 H438.80 V403.10 H443.05 V403.10 H447.31 V403.10 H451.57 V403.10 H455.83 V403.10 H460.09 V403.10 H464.34 V403.10 H468.60 V403.10 H472.86 V403.10 H477.12 V403.10 H481.38 V403.10 H485.63 V403.10 H489.89 V403.10 H494.15 V403.10 H498.41 V403.10 H502.66 V403.10 H506.92 V403.10 H511.18 V403.10 H515.44 V403.10 H519.70 V403.10 H523.95 V403.10 H528.21 V403.10 H532.47 V403.10 H536.73 V396.70 H538.86" stroke="#ff0000"/>
<path d="M325.96,403.30 H328.09 V403.30 H332.35 V403.30 H336.60 V403.30 H340.86 V402.80 H345.12 V402.80 H349.38 V402.80 H353.63 V400.40 H357.89 V398.60 H362.15 V395.60 H366.41 V391.90 H370.67 V391.90 H374.93 V391.90 H379.18 V386.10 H383.44 V386.40 H387.70 V386.60 H391.96 V386.80 H396.22 V386.80 H400.47 V386.80 H404.73 V386.60 H408.99 V386.10 H413.25 V383.70 H417.50 V380.90 H421.76 V379.00 H426.02 V368.00 H430.28 V397.80 H434.54 V402.50 H438.80 V403.10 H443.05 V403.10 H447.31 V403.10 H451.57 V403.10 H455.83 V403.10 H460.09 V403.10 H464.34 V403.10 H468.60 V403.10 H472.86 V403.10 H477.12 V403.10 H481.38 V403.10 H485.63 V403.10 H489.89 V403.10 H494.15 V403.10 H498.41 V403.10 H502.66 V403.10 H506.92 V403.10 H511.18 V403.10 H515.44 V403.10 H519.70 V403.10 H523.95 V403.10 H528.21 V403.10 H532.47 V403.10 H536.73 V403.10 H538.86" stroke="#000000"/>
<path d="M325.96,401.55 H328.09 V401.55 H332.35 V401.00 H336.60 V399.20 H340.86 V398.80 H345.12 V397.60 H349.38 V396.20 H353.63 V394.80 H357.89 V392.50 H362.15 V389.20 H366.41 V387.80 H370.67 V387.80 H374.93 V389.10 H379.18 V390.30 H383.44 V391.40 H387.70 V392.60 H391.96 V395.60 H396.22 V397.20 H400.47 V396.80 H404.73 V396.60 H408.99 V395.10 H413.25 V393.00 H417.50 V387.50 H421.76 V376.20 H426.02 V355.30 H430.28 V390.30 H434.54 V398.60 H438.80 V399.90 H443.05 V400.40 H447.31 V400.90 H451.57 V400.90 H455.83 V401.40 H460.09 V401.80 H464.34 V401.90 H468.60 V402.00 H472.86 V402.10 H477.12 V402.20 H481.38 V402.30 H485.63 V402.40 H489.89 V402.50 H494.15 V402.60 H498.41 V402.80 H502.66 V402.80 H506.92 V402.80 H511.18 V402.80 H515.44 V402.80 H519.70 V402.80 H523.95 V402.80 H528.21 V402.80 H532.47 V402.80 H536.73 V402.80 H538.86" stroke="#ff00ff"/>
<path d="M325.96,403.30 H328.09 V403.30 H332.35 V403.30 H336.60 V403.30 H340.86 V403.30 H345.12 V401.80 H349.38 V401.80 H353.63 V398.10 H357.89 V398.10 H362.15 V395.30 H366.41 V394.30 H370.67 V394.00 H374.93 V394.00 H379.18 V394.00 H383.44 V394.00 H387.70 V394.00 H391.96 V394.00 H396.22 V394.00 H400.47 V394.50 H404.73 V391.70 H408.99 V388.90 H413.25 V380.90 H417.50 V372.50 H421.76 V358.10 H426.02 V345.00 H430.28 V392.40 H434.54 V402.40 H438.80 V402.70 H443.05 V402.70 H447.31 V402.70 H451.57 V402.70 H455.83 V402.70 H460.09 V402.70 H464.34 V402.70 H468.60 V402.70 H472.86 V402.70 H477.12 V402.70 H481.38 V402.70 H485.63 V402.70 H489.89 V402.70 H494.15 V402.70 H498.41 V402.70 H502.66 V402.70 H506.92 V402.70 H511.18 V402.70 H515.44 V402.70 H519.70 V402.70 H523.95 V402.70 H528.21 V402.70 H532.47 V402.70 H536.73 V398.10 H538.86" stroke="#00a000"/>
<g><text transform="translate(333.01,427.15) scale(1.050,1)">0.6</text><text transform="translate(375.58,427.15) scale(1.050,1)">0.8</text><text transform="translate(418.08,427.15) scale(1.050,1)">1.0</text><text transform="translate(460.87,427.15) scale(1.050,1)">1.2</text><text transform="translate(503.06,427.15) scale(1.050,1)">1.4</text><text transform="translate(287.67,404.30) scale(1.050,1)">0.0</text><text transform="translate(287.86,379.67) scale(1.050,1)">0.1</text><text transform="translate(287.88,348.49) scale(1.050,1)">0.2</text><text transform="translate(287.77,317.31) scale(1.050,1)">0.3</text><text transform="translate(287.49,286.13) scale(1.050,1)">0.4</text><text transform="translate(287.73,260.20) scale(1.050,1)">0.5</text><text transform="translate(405.10,240.50) scale(1.050,1)" style="letter-spacing:1.50px">335</text><text transform="translate(448.58,240.50) scale(0.880,1)">A</text></g>
</g>
<g fill="#fff"><rect x="130.06" y="196.16" width="4.45" height="4.39"/><rect x="136.30" y="196.16" width="3.98" height="4.39"/><rect x="172.85" y="196.16" width="4.45" height="4.39"/><rect x="179.09" y="196.16" width="3.98" height="4.39"/><rect x="215.04" y="196.16" width="4.45" height="4.39"/><rect x="221.28" y="196.16" width="3.98" height="4.39"/><rect x="16.90" y="149.72" width="4.45" height="4.39"/><rect x="23.13" y="149.72" width="3.98" height="4.39"/><rect x="117.08" y="10.21" width="4.45" height="4.39"/><rect x="123.32" y="10.21" width="3.98" height="4.39"/><rect x="141.02" y="10.21" width="4.45" height="4.39"/><rect x="147.25" y="10.21" width="3.98" height="4.39"/><rect x="418.26" y="196.16" width="4.45" height="4.39"/><rect x="424.50" y="196.16" width="3.98" height="4.39"/><rect x="461.05" y="196.16" width="4.45" height="4.39"/><rect x="467.29" y="196.16" width="3.98" height="4.39"/><rect x="503.24" y="196.16" width="4.45" height="4.39"/><rect x="509.48" y="196.16" width="3.98" height="4.39"/><rect x="305.60" y="149.72" width="4.45" height="4.39"/><rect x="311.83" y="149.72" width="3.98" height="4.39"/><rect x="405.28" y="10.21" width="4.45" height="4.39"/><rect x="411.52" y="10.21" width="3.98" height="4.39"/><rect x="130.06" y="424.76" width="4.45" height="4.39"/><rect x="136.30" y="424.76" width="3.98" height="4.39"/><rect x="172.85" y="424.76" width="4.45" height="4.39"/><rect x="179.09" y="424.76" width="3.98" height="4.39"/><rect x="215.04" y="424.76" width="4.45" height="4.39"/><rect x="221.28" y="424.76" width="3.98" height="4.39"/><rect x="16.90" y="382.48" width="4.45" height="4.39"/><rect x="23.13" y="382.48" width="3.98" height="4.39"/><rect x="129.05" y="238.11" width="4.45" height="4.39"/><rect x="135.29" y="238.11" width="3.98" height="4.39"/><rect x="141.02" y="238.11" width="4.45" height="4.39"/><rect x="147.25" y="238.11" width="3.98" height="4.39"/><rect x="418.26" y="424.76" width="4.45" height="4.39"/><rect x="424.50" y="424.76" width="3.98" height="4.39"/><rect x="461.05" y="424.76" width="4.45" height="4.39"/><rect x="467.29" y="424.76" width="3.98" height="4.39"/><rect x="503.24" y="424.76" width="4.45" height="4.39"/><rect x="509.48" y="424.76" width="3.98" height="4.39"/><rect x="305.60" y="377.28" width="4.45" height="4.39"/><rect x="311.83" y="377.28" width="3.98" height="4.39"/></g>
</svg>
</body></html>
